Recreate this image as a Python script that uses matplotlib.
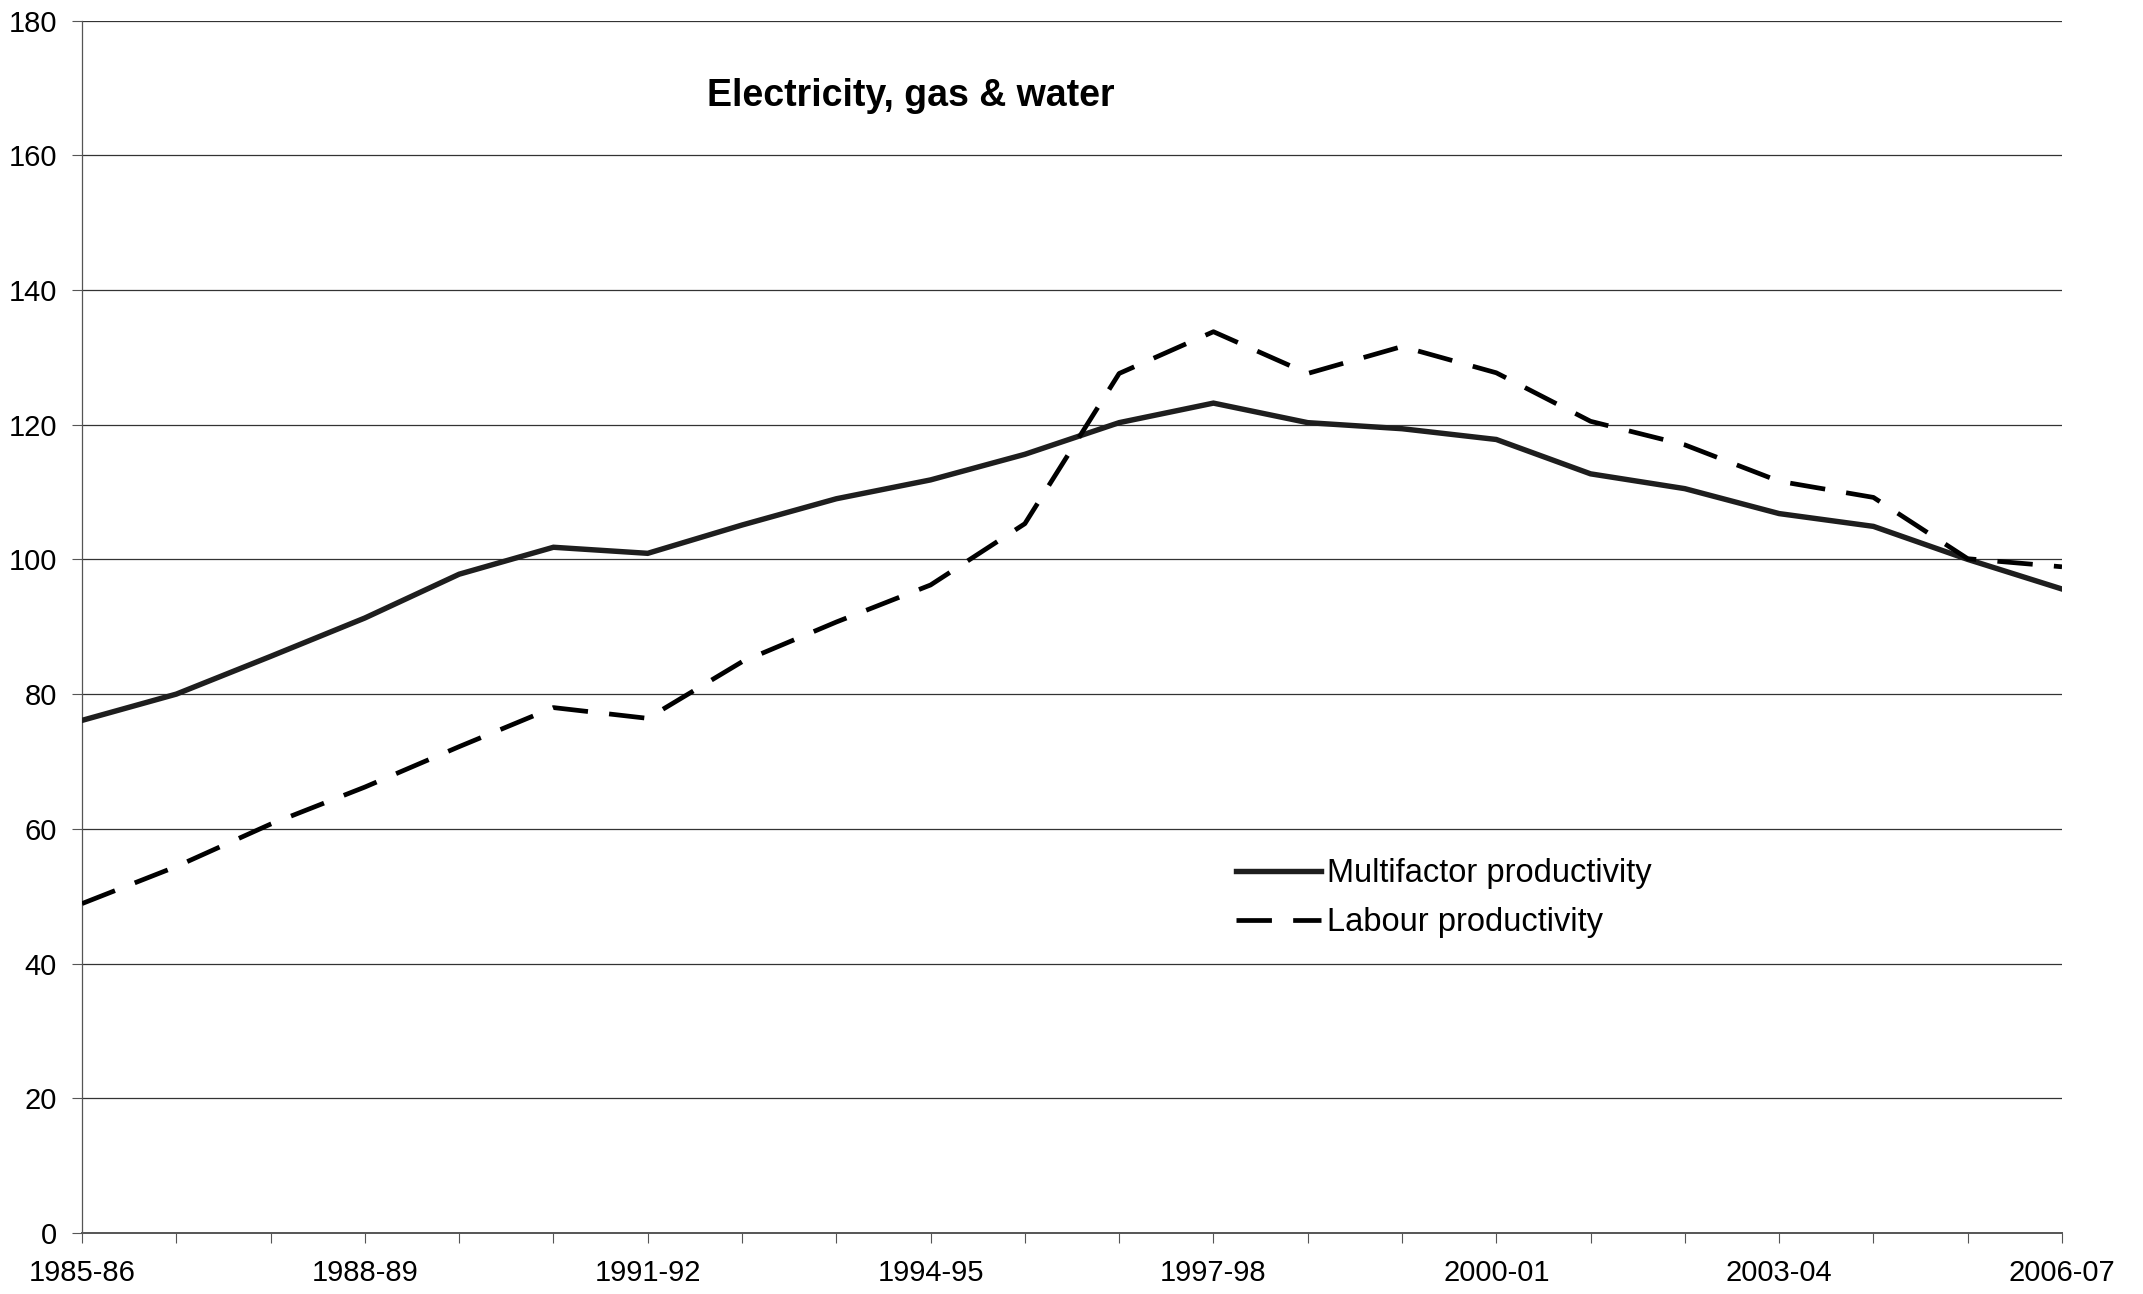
import matplotlib
matplotlib.use("Agg")
import matplotlib.pyplot as plt
import numpy as np

years = ["1985-86", "1986-87", "1987-88", "1988-89", "1989-90", "1990-91", "1991-92",
         "1992-93", "1993-94", "1994-95", "1995-96", "1996-97", "1997-98", "1998-99",
         "1999-00", "2000-01", "2001-02", "2002-03", "2003-04", "2004-05", "2005-06",
         "2006-07"]
multifactor = [76.1, 80.0, 85.6, 91.3, 97.8, 101.8, 100.9, 105.1, 109.0, 111.8, 115.6,
               120.3, 123.2, 120.3, 119.4, 117.8, 112.7, 110.5, 106.8, 104.9, 100.0, 95.6]
labour = [48.9, 54.4, 60.7, 66.2, 72.2, 78.0, 76.4, 84.8, 90.7, 96.2, 105.3,
          127.6, 133.8, 127.6, 131.6, 127.7, 120.5, 117.0, 111.6, 109.2, 100.1, 98.9]
yticks = [0, 20, 40, 60, 80, 100, 120, 140, 160, 180]
title = "Electricity, gas & water"
series_names = ["Multifactor productivity", "Labour productivity"]

plt.rcParams['font.family'] = ['Liberation Sans', 'DejaVu Sans']

W, H, DPI = 2143, 1294, 100
fig = plt.figure(figsize=(W / DPI, H / DPI), dpi=DPI)
ax = fig.add_axes([82 / W, 1 - 1233 / H, (2062 - 82) / W, (1233 - 20.5) / H])

x = np.arange(len(years))
ax.plot(x, multifactor, color='#1e1e1e', lw=3.9, solid_joinstyle='miter',
        label=series_names[0], zorder=3)
ax.plot(x, labour, color='black', lw=3.4, linestyle=(0, (7.5, 4.5)),
        label=series_names[1], zorder=3)

ax.set_xlim(0, len(years) - 1)
ax.set_ylim(0, 180)
ax.set_yticks(yticks)
ax.set_yticklabels([str(v) for v in yticks])
for v in yticks[1:]:
    ax.axhline(v, color='#333333', lw=0.9, zorder=1)

ax.set_xticks(x)
ax.set_xticklabels([y if i % 3 == 0 else "" for i, y in enumerate(years)])

for s in ['top', 'right']:
    ax.spines[s].set_visible(False)
ax.spines['left'].set_color('#555555')
ax.spines['left'].set_linewidth(0.9)
ax.spines['bottom'].set_color('#555555')
ax.spines['bottom'].set_linewidth(1.4)

ax.tick_params(axis='y', direction='out', length=7, width=0.8, color='#555555',
               pad=11, labelsize=21)
ax.tick_params(axis='x', direction='out', length=7, width=0.8, color='#555555',
               pad=12, labelsize=21)

ax.text(0.3157, 168.8, title, transform=ax.get_yaxis_transform(), fontsize=27,
        fontweight='bold', ha='left', va='center')

leg = ax.legend(loc='upper left', bbox_to_anchor=(1236 / W, 1 - 858 / H),
                bbox_transform=fig.transFigure, frameon=False, fontsize=23.5,
                handlelength=2.6, handletextpad=0.2, labelspacing=0.55,
                borderaxespad=0, borderpad=0)

fig.savefig("out.png", dpi=DPI)
